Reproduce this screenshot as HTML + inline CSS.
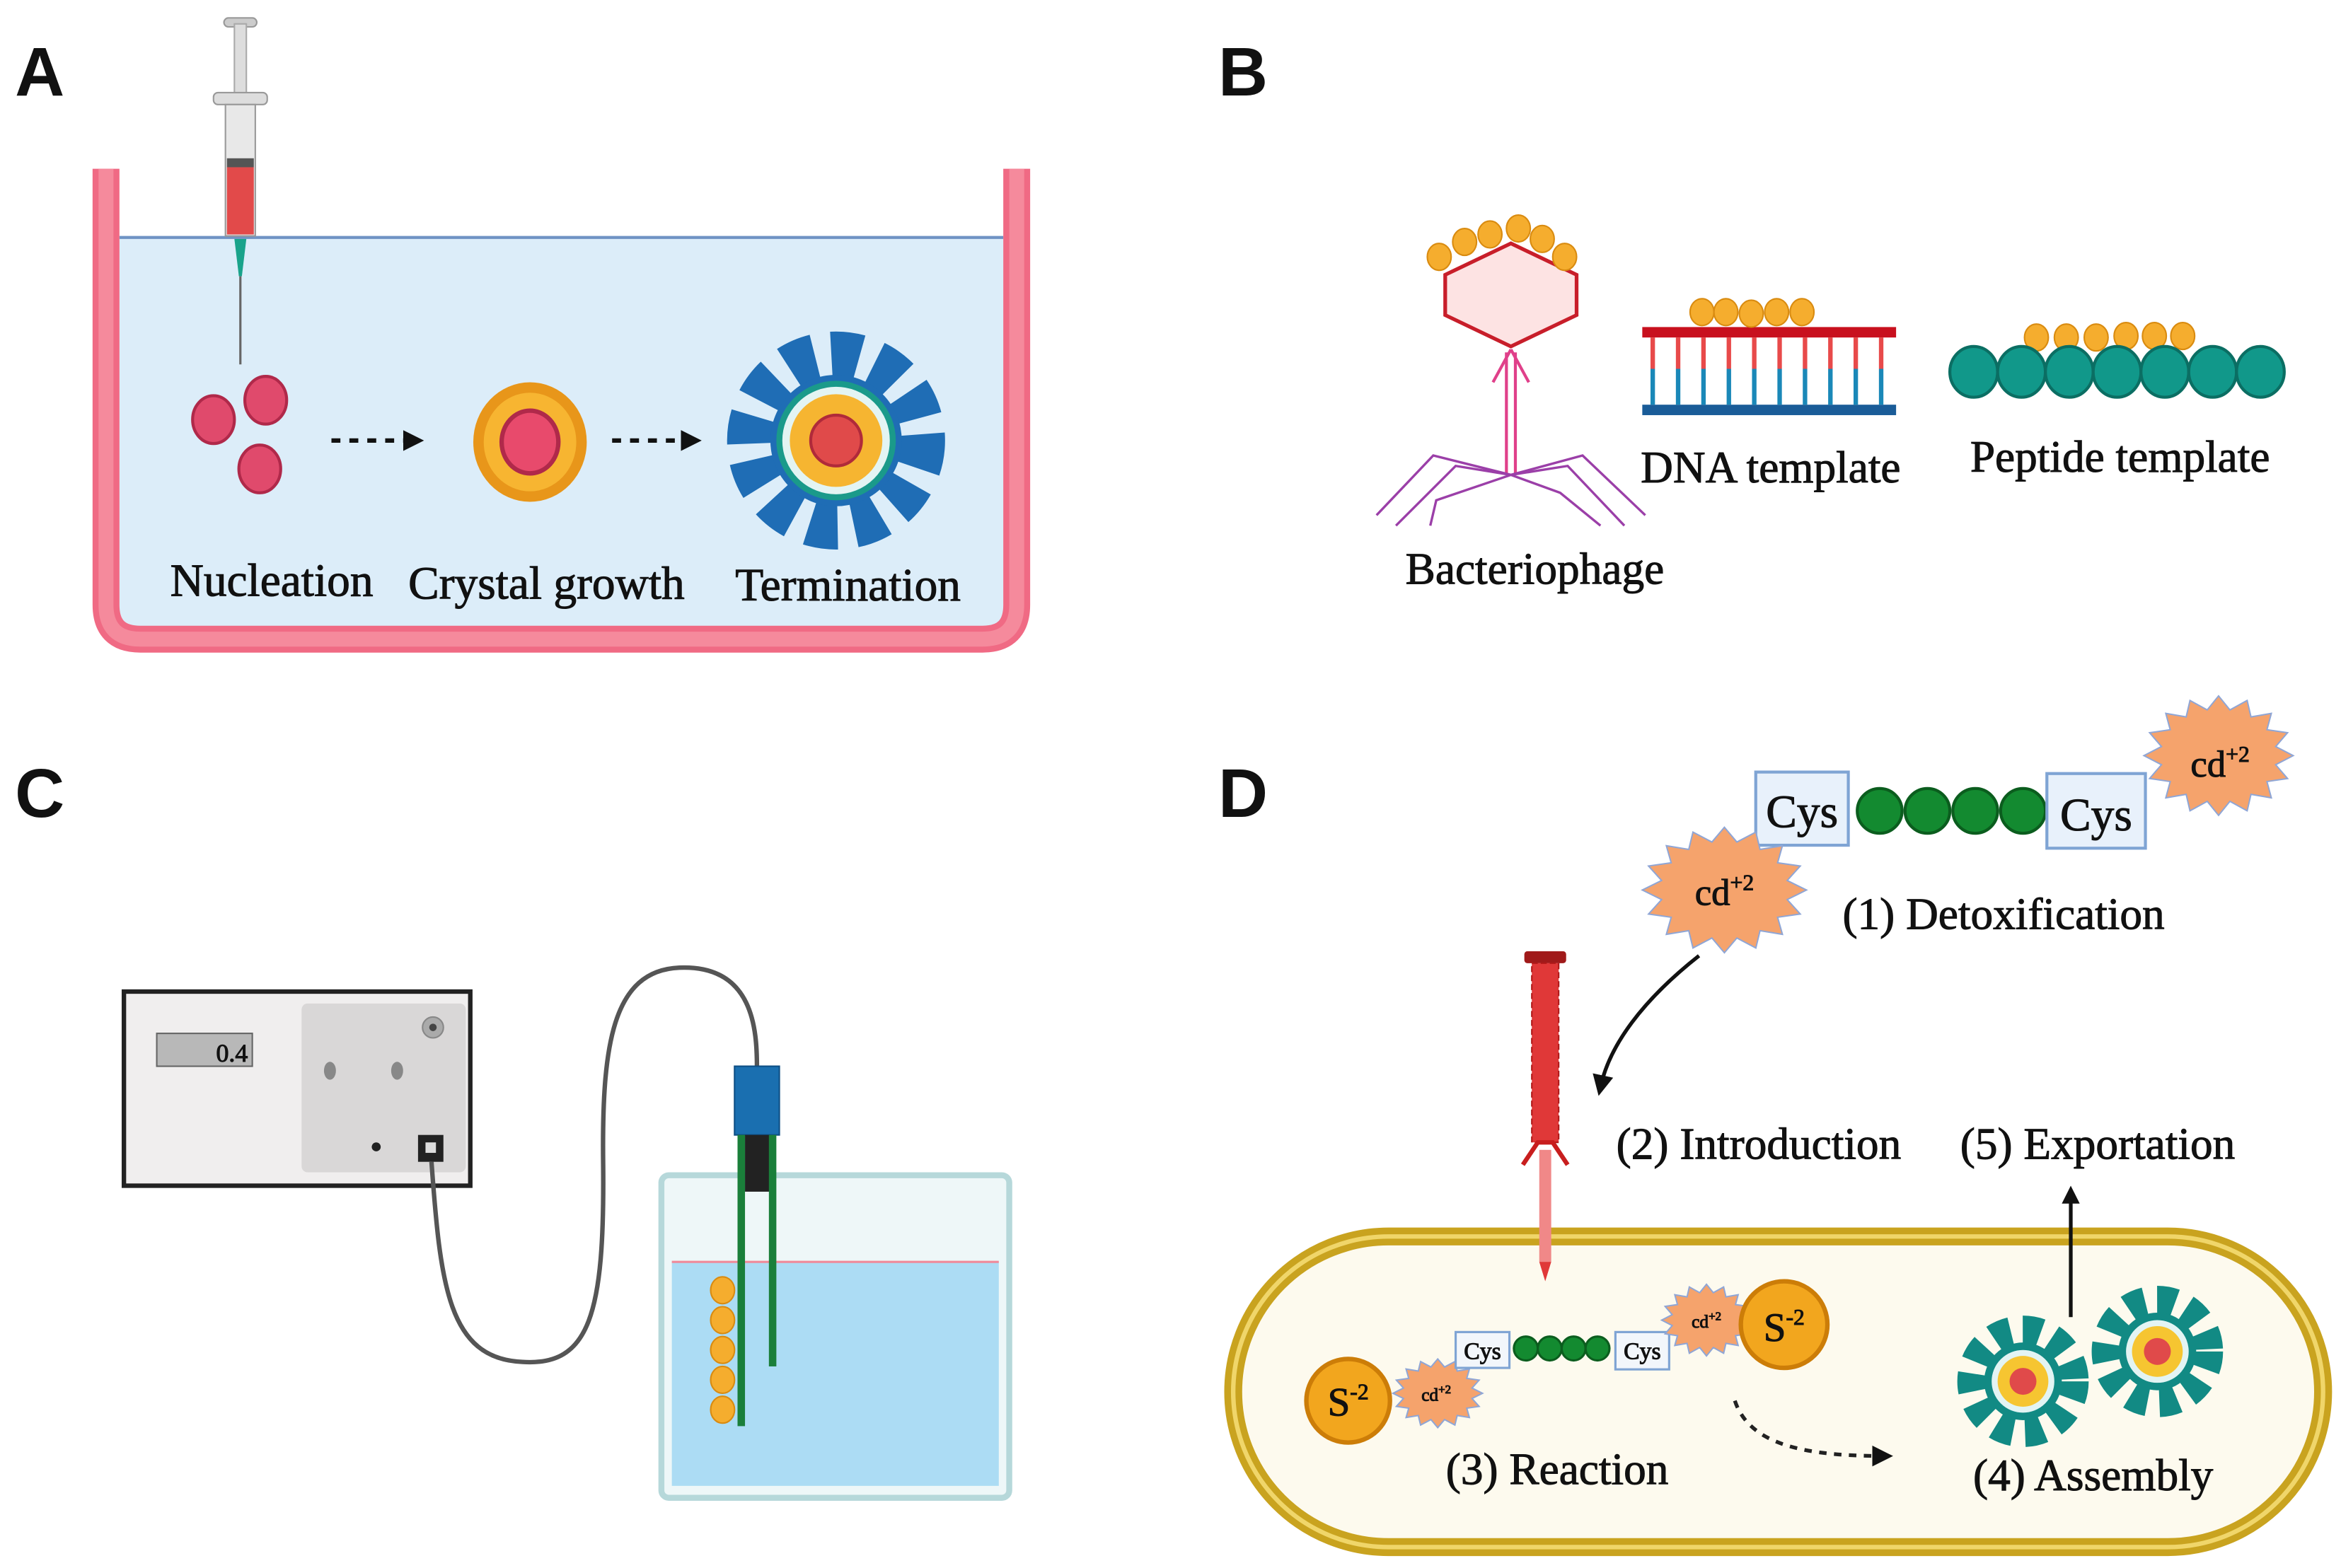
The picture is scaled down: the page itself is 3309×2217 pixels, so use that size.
<!DOCTYPE html>
<html><head><meta charset="utf-8"><style>
html,body{margin:0;padding:0;background:#fff;}
svg{display:block;}
text{font-family:"Liberation Serif",serif;fill:#111;stroke:#111;stroke-width:0.5;}
.lbl{font-family:"Liberation Sans",sans-serif;font-weight:bold;font-size:46px;stroke:none;}
</style></head><body>
<svg width="3309" height="2217" viewBox="0 0 1568 1050" preserveAspectRatio="none" xmlns="http://www.w3.org/2000/svg">
<defs>
<polygon id="star" points="1,0 .765,.152 .924,.383 .648,.434 .707,.707 .434,.648 .383,.924 .152,.765 0,1 -.152,.765 -.383,.924 -.434,.648 -.707,.707 -.648,.434 -.924,.383 -.765,.152 -1,0 -.765,-.152 -.924,-.383 -.648,-.434 -.707,-.707 -.434,-.648 -.383,-.924 -.152,-.765 0,-1 .152,-.765 .383,-.924 .434,-.648 .707,-.707 .648,-.434 .924,-.383 .765,-.152" fill="#f5a36c" stroke="#8fa6d6" stroke-width="2" vector-effect="non-scaling-stroke"/>
<marker id="ah" markerWidth="12" markerHeight="12" refX="6" refY="6" orient="auto" markerUnits="userSpaceOnUse"><path d="M0,0 L12,6 L0,12z" fill="#111"/></marker>
<marker id="ah2" markerWidth="14" markerHeight="14" refX="8" refY="7" orient="auto" markerUnits="userSpaceOnUse"><path d="M0,0 L14,7 L0,14z" fill="#111"/></marker>
</defs>
<rect width="1568" height="1050" fill="#fff"/>

<!-- Panel A -->
<text x="10" y="64" class="lbl">A</text>
<rect x="80" y="158" width="592" height="262" fill="#dcedf9"/>
<line x1="80" y1="159" x2="672" y2="159" stroke="#6f93c4" stroke-width="2"/>
<path d="M71,113 V405 Q71,428 94,428 H658 Q681,428 681,405 V113" fill="none" stroke="#f06a84" stroke-width="18"/>
<path d="M71,113 V405 Q71,428 94,428 H658 Q681,428 681,405 V113" fill="none" stroke="#f58a9c" stroke-width="10"/>
<rect x="150" y="12" width="22" height="6" rx="3" fill="#ccc" stroke="#999"/>
<rect x="157" y="16" width="8" height="50" fill="#ddd" stroke="#aaa"/>
<rect x="143" y="62" width="36" height="8" rx="3" fill="#ddd" stroke="#999"/>
<rect x="151" y="70" width="20" height="88" fill="#e8e8e8" stroke="#999"/>
<rect x="152" y="106" width="18" height="6" fill="#555"/>
<rect x="152" y="112" width="18" height="45" fill="#e24a4a"/>
<path d="M157,160 L165,160 L162,185 L160,185z" fill="#19a38b"/>
<line x1="161" y1="185" x2="161" y2="244" stroke="#666" stroke-width="1.5"/>
<g fill="#e04a6c" stroke="#b0294a" stroke-width="2">
<ellipse cx="143" cy="281" rx="14" ry="16"/><ellipse cx="178" cy="268" rx="14" ry="16"/><ellipse cx="174" cy="314" rx="14" ry="16"/></g>
<line x1="222" y1="295" x2="278" y2="295" stroke="#111" stroke-width="3" stroke-dasharray="6,6" marker-end="url(#ah2)"/>
<line x1="410" y1="295" x2="464" y2="295" stroke="#111" stroke-width="3" stroke-dasharray="6,6" marker-end="url(#ah2)"/>
<ellipse cx="355" cy="296" rx="38" ry="40" fill="#e8961a"/><ellipse cx="355" cy="296" rx="31" ry="33" fill="#f7b531"/>
<ellipse cx="355" cy="296" rx="19" ry="21" fill="#e84a6c" stroke="#b0294a" stroke-width="3"/>
<g transform="translate(560,295)">
<circle r="58" fill="none" stroke="#1f6db5" stroke-width="30" stroke-dasharray="19,11"/>
<circle r="44" fill="#1f6db5"/>
<circle r="38" fill="#e3f4f3" stroke="#1a9a8a" stroke-width="4"/>
<circle r="31" fill="#f6b531"/><circle r="17" fill="#e04a4a" stroke="#b02a3a" stroke-width="2"/></g>
<text x="182" y="399" font-size="31" text-anchor="middle">Nucleation</text>
<text x="366" y="401" font-size="31" text-anchor="middle">Crystal growth</text>
<text x="568" y="402" font-size="31" text-anchor="middle">Termination</text>

<!-- Panel B -->
<text x="816" y="64" class="lbl">B</text>
<polygon points="1012,163 1056,184 1056,211 1012,232 968,211 968,184" fill="#fde3e3" stroke="#c81e2a" stroke-width="2.5"/>
<g fill="#f5ad2e" stroke="#d98b10" stroke-width="1">
<ellipse cx="964" cy="172" rx="8" ry="9"/><ellipse cx="981" cy="162" rx="8" ry="9"/><ellipse cx="998" cy="157" rx="8" ry="9"/><ellipse cx="1017" cy="153" rx="8" ry="9"/><ellipse cx="1033" cy="160" rx="8" ry="9"/><ellipse cx="1048" cy="172" rx="8" ry="9"/></g>
<line x1="1009" y1="236" x2="1009" y2="318" stroke="#e0408a" stroke-width="2"/><line x1="1015" y1="236" x2="1015" y2="318" stroke="#e0408a" stroke-width="2"/>
<path d="M1012,234 L1000,256 M1012,234 L1024,256" stroke="#e0408a" stroke-width="2"/>
<g stroke="#9b3fa8" stroke-width="1.6" fill="none">
<path d="M1012,318 L960,305 L922,345"/><path d="M1012,318 L975,312 L935,352"/><path d="M1012,318 L962,335 L958,352"/>
<path d="M1012,318 L1060,305 L1102,345"/><path d="M1012,318 L1050,312 L1088,352"/><path d="M1012,318 L1045,330 L1072,352"/></g>
<text x="1028" y="391" font-size="30" text-anchor="middle">Bacteriophage</text>
<rect x="1100" y="219" width="170" height="7" fill="#c8101e"/>
<rect x="1100" y="271" width="170" height="7" fill="#1a5c98"/>
<g stroke-width="3">
<g stroke="#e84a4a"><line x1="1107" y1="226" x2="1107" y2="247"/><line x1="1124" y1="226" x2="1124" y2="247"/><line x1="1141" y1="226" x2="1141" y2="247"/><line x1="1158" y1="226" x2="1158" y2="247"/><line x1="1175" y1="226" x2="1175" y2="247"/><line x1="1192" y1="226" x2="1192" y2="247"/><line x1="1209" y1="226" x2="1209" y2="247"/><line x1="1226" y1="226" x2="1226" y2="247"/><line x1="1243" y1="226" x2="1243" y2="247"/><line x1="1260" y1="226" x2="1260" y2="247"/></g>
<g stroke="#1a88b8"><line x1="1107" y1="247" x2="1107" y2="271"/><line x1="1124" y1="247" x2="1124" y2="271"/><line x1="1141" y1="247" x2="1141" y2="271"/><line x1="1158" y1="247" x2="1158" y2="271"/><line x1="1175" y1="247" x2="1175" y2="271"/><line x1="1192" y1="247" x2="1192" y2="271"/><line x1="1209" y1="247" x2="1209" y2="271"/><line x1="1226" y1="247" x2="1226" y2="271"/><line x1="1243" y1="247" x2="1243" y2="271"/><line x1="1260" y1="247" x2="1260" y2="271"/></g></g>
<g fill="#f5ad2e" stroke="#d98b10" stroke-width="1">
<ellipse cx="1140" cy="209" rx="8" ry="9"/><ellipse cx="1156" cy="209" rx="8" ry="9"/><ellipse cx="1173" cy="210" rx="8" ry="9"/><ellipse cx="1190" cy="209" rx="8" ry="9"/><ellipse cx="1207" cy="209" rx="8" ry="9"/></g>
<text x="1186" y="323" font-size="30" text-anchor="middle">DNA template</text>
<g fill="#f5ad2e" stroke="#d98b10" stroke-width="1">
<ellipse cx="1364" cy="226" rx="8" ry="9"/><ellipse cx="1384" cy="226" rx="8" ry="9"/><ellipse cx="1404" cy="226" rx="8" ry="9"/><ellipse cx="1424" cy="225" rx="8" ry="9"/><ellipse cx="1443" cy="225" rx="8" ry="9"/><ellipse cx="1462" cy="225" rx="8" ry="9"/></g>
<g fill="#11988a" stroke="#0b6e63" stroke-width="2">
<ellipse cx="1322" cy="249" rx="16" ry="17"/><ellipse cx="1354" cy="249" rx="16" ry="17"/><ellipse cx="1386" cy="249" rx="16" ry="17"/><ellipse cx="1418" cy="249" rx="16" ry="17"/><ellipse cx="1450" cy="249" rx="16" ry="17"/><ellipse cx="1482" cy="249" rx="16" ry="17"/><ellipse cx="1514" cy="249" rx="16" ry="17"/></g>
<text x="1420" y="316" font-size="30" text-anchor="middle">Peptide template</text>

<!-- Panel C -->
<text x="10" y="547" class="lbl">C</text>
<rect x="83" y="664" width="232" height="130" fill="#f0eeee" stroke="#222" stroke-width="3"/>
<rect x="202" y="672" width="110" height="113" rx="4" fill="#d9d7d7"/>
<rect x="105" y="692" width="64" height="22" fill="#b8b8b8" stroke="#666"/>
<text x="166" y="711" font-size="17" text-anchor="end" font-family="Liberation Sans" fill="#333" stroke="none">0.4</text>
<circle cx="290" cy="688" r="7" fill="#aaa" stroke="#888"/><circle cx="290" cy="688" r="2.5" fill="#444"/>
<ellipse cx="221" cy="717" rx="4" ry="6" fill="#888"/><ellipse cx="266" cy="717" rx="4" ry="6" fill="#888"/>
<circle cx="252" cy="768" r="3" fill="#222"/>
<rect x="280" y="760" width="17" height="18" fill="#222"/><rect x="285" y="765" width="7" height="7" fill="#ddd"/>
<path d="M289,778 C295,860 300,910 350,912 C395,915 405,880 404,780 C403,700 410,650 455,648 C505,646 507,690 507,715" fill="none" stroke="#555" stroke-width="3"/>
<rect x="443" y="787" width="233" height="216" rx="5" fill="#eef7f8" stroke="#b6d8da" stroke-width="4"/>
<rect x="450" y="845" width="219" height="150" fill="#acdcf4"/>
<line x1="450" y1="845" x2="669" y2="845" stroke="#f08a9a" stroke-width="1.5"/>
<rect x="492" y="714" width="30" height="46" fill="#1a6fb0" stroke="#0e4f85"/>
<rect x="499" y="760" width="17" height="38" fill="#222"/>
<rect x="494" y="760" width="5" height="195" fill="#1a7f3a"/><rect x="515" y="760" width="5" height="155" fill="#1a7f3a"/>
<g fill="#f5ad2e" stroke="#d98b10" stroke-width="1">
<ellipse cx="484" cy="864" rx="8" ry="9"/><ellipse cx="484" cy="884" rx="8" ry="9"/><ellipse cx="484" cy="904" rx="8" ry="9"/><ellipse cx="484" cy="924" rx="8" ry="9"/><ellipse cx="484" cy="944" rx="8" ry="9"/></g>

<!-- Panel D -->
<text x="816" y="547" class="lbl">D</text>
<rect x="1176" y="517" width="62" height="49" fill="#e8f1fb" stroke="#7fa4d4" stroke-width="2"/>
<text x="1207" y="554" font-size="31" text-anchor="middle">Cys</text>
<g fill="#138a30" stroke="#0b5d1e" stroke-width="2"><circle cx="1259" cy="543" r="15"/><circle cx="1291" cy="543" r="15"/><circle cx="1323" cy="543" r="15"/><circle cx="1355" cy="543" r="15"/></g>
<rect x="1371" y="518" width="66" height="50" fill="#e8f1fb" stroke="#7fa4d4" stroke-width="2"/>
<text x="1404" y="556" font-size="31" text-anchor="middle">Cys</text>
<use href="#star" transform="translate(1486,506) scale(50,40)"/>
<text x="1487" y="520" font-size="25" text-anchor="middle">cd<tspan font-size="15" dy="-10">+2</tspan></text>
<use href="#star" transform="translate(1155,596) scale(55,42)"/>
<text x="1155" y="606" font-size="25" text-anchor="middle">cd<tspan font-size="15" dy="-10">+2</tspan></text>
<text x="1342" y="622" font-size="30" text-anchor="middle">(1) Detoxification</text>
<path d="M1138,640 C1100,670 1078,700 1072,728" fill="none" stroke="#111" stroke-width="2.5" marker-end="url(#ah2)"/>
<text x="1178" y="776" font-size="30" text-anchor="middle">(2) Introduction</text>
<text x="1405" y="776" font-size="30" text-anchor="middle">(5) Exportation</text>
<rect x="826" y="828" width="730" height="208" rx="104" fill="#fdfaee" stroke="#c9a31f" stroke-width="12"/>
<rect x="826" y="828" width="730" height="208" rx="104" fill="none" stroke="#f0d66a" stroke-width="3"/>
<line x1="1387" y1="882" x2="1387" y2="800" stroke="#111" stroke-width="2.5" marker-end="url(#ah)"/>
<rect x="1021" y="637" width="28" height="8" rx="2" fill="#a01a1a"/>
<rect x="1026" y="645" width="18" height="120" fill="#e03838" stroke="#b01818" stroke-width="1" stroke-dasharray="4,2"/>
<path d="M1020,780 L1030,765 L1040,765 L1050,780" fill="none" stroke="#c81e1e" stroke-width="3"/>
<rect x="1031" y="770" width="8" height="75" fill="#f08888"/>
<path d="M1031,845 L1039,845 L1035,858z" fill="#e03838"/>
<circle cx="903" cy="938" r="28" fill="#f2a61e" stroke="#cc7d08" stroke-width="3"/>
<text x="903" y="948" font-size="27" text-anchor="middle">S<tspan font-size="15" dy="-11">-2</tspan></text>
<use href="#star" transform="translate(963,933) scale(30,23)"/>
<text x="962" y="938" font-size="12" text-anchor="middle" stroke="none">cd<tspan font-size="8" dy="-5">+2</tspan></text>
<rect x="975" y="892" width="36" height="24" fill="#f2f6fb" stroke="#7fa4d4" stroke-width="1.5"/>
<text x="993" y="910" font-size="16" text-anchor="middle" stroke="none">Cys</text>
<g fill="#138a30" stroke="#0b5d1e" stroke-width="1.5"><circle cx="1022" cy="903" r="8"/><circle cx="1038" cy="903" r="8"/><circle cx="1054" cy="903" r="8"/><circle cx="1070" cy="903" r="8"/></g>
<rect x="1082" y="892" width="36" height="25" fill="#f2f6fb" stroke="#7fa4d4" stroke-width="1.5"/>
<text x="1100" y="910" font-size="16" text-anchor="middle" stroke="none">Cys</text>
<use href="#star" transform="translate(1143,884) scale(30,24)"/>
<text x="1143" y="889" font-size="12" text-anchor="middle" stroke="none">cd<tspan font-size="8" dy="-5">+2</tspan></text>
<circle cx="1195" cy="887" r="29" fill="#f2a61e" stroke="#cc7d08" stroke-width="3"/>
<text x="1195" y="898" font-size="27" text-anchor="middle">S<tspan font-size="15" dy="-11">-2</tspan></text>
<text x="1043" y="994" font-size="30" text-anchor="middle">(3) Reaction</text>
<path d="M1162,938 C1172,968 1210,975 1262,975" fill="none" stroke="#222" stroke-width="2.5" stroke-dasharray="5,5" marker-end="url(#ah2)"/>
<g transform="translate(1355,925)">
<circle r="34" fill="none" stroke="#128a84" stroke-width="20" stroke-dasharray="12,8"/>
<circle r="26" fill="#128a84"/><circle r="22" fill="#e3f4f3" stroke="#128a84" stroke-width="2"/>
<circle r="17" fill="#f6c531"/><circle r="9" fill="#e04a4a"/></g>
<g transform="translate(1445,905)">
<circle r="34" fill="none" stroke="#128a84" stroke-width="20" stroke-dasharray="12,8"/>
<circle r="26" fill="#128a84"/><circle r="22" fill="#e3f4f3" stroke="#128a84" stroke-width="2"/>
<circle r="17" fill="#f6c531"/><circle r="9" fill="#e04a4a"/></g>
<text x="1402" y="998" font-size="30" text-anchor="middle">(4) Assembly</text>
</svg>
</body></html>
